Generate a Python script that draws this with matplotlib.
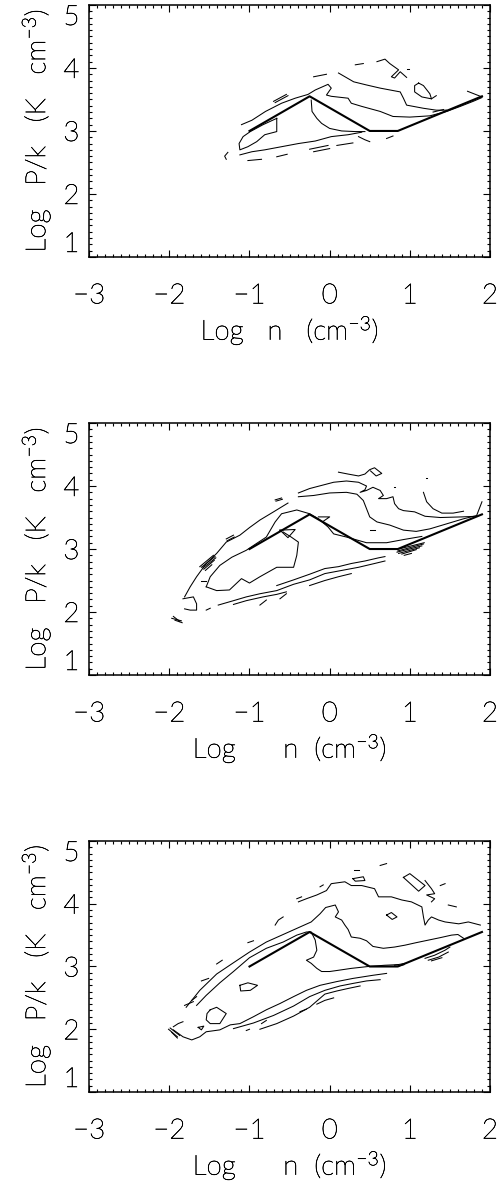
import matplotlib
matplotlib.use('Agg')
import matplotlib.pyplot as plt
import matplotlib.patheffects as pe
from matplotlib.ticker import MultipleLocator

plt.rcParams['font.family'] = ['Lato', 'DejaVu Sans']
plt.rcParams['font.weight'] = 'light'
plt.rcParams['axes.labelweight'] = 'light'
plt.rcParams['mathtext.default'] = 'regular'

# thermal equilibrium curve (same in all panels)
eq_logn = [-1.0, -0.25, 0.5, 0.85, 1.9]
eq_logp = [3.0, 3.55, 3.0, 3.0, 3.55]

x_ticks = [-3, -2, -1, 0, 1, 2]
y_ticks = [1, 2, 3, 4, 5]

# --- panel 1: contour traces (log n, log P/k) ---
p1_lines = [
    [(-1.10, 3.10), (-0.97, 3.17), (-0.80, 3.31), (-0.60, 3.44), (-0.43, 3.52), (-0.27, 3.58),
     (-0.18, 3.65), (-0.02, 3.74), (0.02, 3.68), (-0.04, 3.57), (0.02, 3.55), (0.23, 3.52),
     (0.27, 3.44), (0.40, 3.39), (0.63, 3.31), (0.79, 3.23), (1.00, 3.22), (1.25, 3.24),
     (1.46, 3.31), (1.63, 3.39), (1.79, 3.47), (1.90, 3.53)],
    [(0.11, 3.92), (0.30, 3.78), (0.46, 3.73), (0.63, 3.68), (0.88, 3.62), (0.92, 3.52),
     (0.96, 3.41), (1.17, 3.36), (1.33, 3.33), (1.46, 3.33)],
    [(-0.66, 3.20), (-0.66, 2.99), (-0.81, 2.94), (-0.91, 2.83), (-1.02, 2.75), (-1.12, 2.70),
     (-1.13, 2.80), (-1.08, 2.91), (-0.99, 2.99), (-0.83, 3.10), (-0.66, 3.20)],
    [(-0.23, 3.49), (-0.22, 3.31), (-0.16, 3.20), (-0.10, 3.12), (0.00, 3.04), (0.15, 3.00),
     (0.32, 2.99), (0.44, 2.99)],
    [(-1.12, 2.62), (-0.97, 2.67), (-0.81, 2.70), (-0.60, 2.75), (-0.39, 2.80), (-0.18, 2.84),
     (0.02, 2.91), (0.23, 2.94), (0.40, 2.98)],
]
p1_bits = [
    [(-1.27, 2.66), (-1.31, 2.60), (-1.29, 2.55)],
    [(-1.02, 2.53), (-0.85, 2.55)],
    [(-0.66, 2.59), (-0.53, 2.63)],
    [(-0.25, 2.71), (-0.02, 2.77)],
    [(-0.20, 2.67), (0.00, 2.72)],
    [(0.09, 2.77), (0.29, 2.81)],
    [(0.36, 2.91), (0.44, 2.86), (0.50, 2.83)],
    [(0.71, 2.88), (0.79, 2.92)],
    [(-0.70, 3.47), (-0.54, 3.58)],
    [(-0.68, 3.45), (-0.52, 3.56)],
    [(-0.20, 3.86), (-0.04, 3.90)],
    [(0.32, 4.05), (0.42, 4.07)],
    [(0.59, 4.10), (0.69, 4.14), (0.75, 4.07), (0.86, 3.97), (0.77, 3.86), (0.81, 3.84),
     (0.88, 3.94), (0.96, 3.85)],
    [(0.97, 3.99), (0.99, 3.99)],
    [(1.11, 3.76), (1.06, 3.72), (1.06, 3.62), (1.15, 3.54), (1.27, 3.51), (1.25, 3.59),
     (1.17, 3.72), (1.11, 3.76)],
    [(1.27, 3.51), (1.33, 3.56)],
    [(1.72, 3.63), (1.88, 3.55)],
    [(1.29, 3.30), (1.42, 3.34)],
]

# --- panel 2 ---
p2_lines = [
    [(-1.81, 2.24), (-1.74, 2.40), (-1.66, 2.56), (-1.54, 2.77), (-1.41, 2.93), (-1.29, 3.11),
     (-1.12, 3.22), (-1.00, 3.34), (-0.87, 3.46), (-0.70, 3.59), (-0.52, 3.73)],
    [(-1.54, 2.40), (-1.49, 2.56), (-1.37, 2.74), (-1.22, 2.87), (-1.04, 2.98), (-0.91, 3.09),
     (-0.79, 3.19), (-0.68, 3.43), (-0.60, 3.56), (-0.41, 3.62), (-0.25, 3.56), (-0.14, 3.48),
     (-0.02, 3.35), (0.05, 3.24), (0.21, 3.19), (0.46, 3.10), (0.71, 3.10), (0.92, 3.15),
     (1.15, 3.20)],
    [(-1.54, 2.40), (-1.41, 2.34), (-1.25, 2.35), (-1.10, 2.53), (-1.00, 2.46), (-0.87, 2.56),
     (-0.66, 2.71), (-0.45, 2.71), (-0.41, 2.90), (-0.39, 3.11), (-0.48, 3.19), (-0.58, 3.27)],
    [(0.11, 4.22), (0.23, 4.19), (0.36, 4.16), (0.44, 4.19), (0.50, 4.26), (0.56, 4.29),
     (0.65, 4.20), (0.58, 4.16), (0.51, 4.24)],
    [(-0.39, 3.89), (-0.25, 3.96), (-0.10, 4.01), (0.05, 4.06), (0.21, 4.08), (0.36, 4.06),
     (0.46, 4.00), (0.44, 3.94), (0.38, 3.90), (0.46, 3.93), (0.54, 3.98), (0.63, 3.93),
     (0.67, 3.85), (0.61, 3.80), (0.71, 3.80), (0.79, 3.83), (0.81, 3.72), (0.86, 3.64),
     (0.92, 3.61), (1.06, 3.59), (1.19, 3.52), (1.38, 3.50), (1.65, 3.51), (1.83, 3.52),
     (1.90, 3.75)],
    [(1.17, 3.90), (1.21, 3.75), (1.29, 3.64), (1.40, 3.57), (1.54, 3.57), (1.67, 3.60)],
    [(-0.39, 3.83), (-0.20, 3.85), (0.00, 3.89), (0.21, 3.90), (0.34, 3.87), (0.42, 3.77),
     (0.46, 3.64), (0.50, 3.51), (0.59, 3.43), (0.75, 3.38), (0.92, 3.30), (1.08, 3.28),
     (1.25, 3.32), (1.46, 3.40), (1.67, 3.48), (1.83, 3.53)],
    [(-0.66, 2.42), (-0.45, 2.51), (-0.25, 2.60), (-0.06, 2.69), (0.11, 2.72), (0.27, 2.77),
     (0.44, 2.81), (0.61, 2.86), (0.69, 2.88)],
    [(-1.39, 2.11), (-1.20, 2.18), (-1.04, 2.24), (-0.87, 2.29), (-0.66, 2.34), (-0.45, 2.44),
     (-0.25, 2.51), (-0.06, 2.61), (0.15, 2.66), (0.36, 2.71), (0.56, 2.77), (0.69, 2.81)],
    [(-1.20, 2.12), (-1.04, 2.18), (-0.83, 2.24), (-0.66, 2.28), (-0.54, 2.32)],
    [(-0.25, 2.42), (-0.06, 2.50), (0.11, 2.56), (0.27, 2.61)],
    [(-1.83, 2.21), (-1.70, 2.24), (-1.66, 2.13), (-1.66, 2.03), (-1.74, 2.03), (-1.81, 2.05)],
]
p2_bits = [
    [(-0.62, 3.30), (-0.43, 3.31), (-0.52, 3.18), (-0.62, 3.30)],
    [(-0.14, 3.51), (0.00, 3.51), (-0.08, 3.44)],
    [(-0.87, 2.11), (-0.79, 2.19)],
    [(-0.62, 2.21), (-0.54, 2.29)],
    [(-1.54, 2.03), (-1.49, 2.06)],
    [(0.86, 3.00), (1.18, 3.10)],
    [(0.85, 2.97), (1.17, 3.08)],
    [(0.84, 2.95), (1.15, 3.05)],
    [(0.86, 2.93), (1.12, 3.02)],
    [(0.90, 2.92), (1.08, 2.99)],
    [(0.93, 2.90), (1.02, 2.93)],
    [(-1.62, 2.72), (-1.45, 2.90)],
    [(-1.60, 2.71), (-1.43, 2.88)],
    [(-1.58, 2.70), (-1.42, 2.86)],
    [(-1.57, 2.68), (-1.44, 2.82)],
    [(-1.55, 2.66), (-1.47, 2.75)],
    [(-1.97, 1.90), (-1.85, 1.86)],
    [(-1.95, 1.93), (-1.87, 1.85)],
    [(-1.93, 1.87), (-1.84, 1.83)],
    [(-1.29, 3.16), (-1.20, 3.22)],
    [(-1.28, 3.13), (-1.19, 3.19)],
    [(-0.68, 3.78), (-0.60, 3.81)],
    [(-0.67, 3.76), (-0.59, 3.79)],
    [(-1.60, 2.50), (-1.54, 2.50)],
    [(0.50, 3.30), (0.56, 3.30)],
    [(0.80, 3.99), (0.82, 3.99)],
    [(1.20, 4.12), (1.22, 4.12)],
]

# --- panel 3 ---
p3_lines = [
    [(-0.39, 4.03), (-0.29, 4.08), (-0.16, 4.14), (-0.04, 4.21), (0.02, 4.32), (0.19, 4.35),
     (0.27, 4.29), (0.40, 4.29), (0.56, 4.24), (0.61, 4.11), (0.77, 4.11), (0.90, 4.06),
     (1.02, 4.03), (1.15, 3.95), (1.17, 3.79), (1.19, 3.66), (1.23, 3.74), (1.27, 3.79),
     (1.36, 3.74), (1.44, 3.71), (1.61, 3.68), (1.73, 3.71), (1.88, 3.66)],
    [(-1.79, 2.35), (-1.62, 2.62), (-1.41, 2.88), (-1.20, 3.06), (-1.00, 3.23), (-0.79, 3.39),
     (-0.58, 3.51), (-0.37, 3.63), (-0.23, 3.71), (-0.12, 3.84), (-0.05, 3.94), (0.07, 3.98),
     (0.11, 3.87), (0.07, 3.79), (0.15, 3.74), (0.19, 3.66), (0.23, 3.59), (0.27, 3.47),
     (0.38, 3.45), (0.46, 3.41), (0.54, 3.32), (0.67, 3.29), (0.81, 3.31), (0.94, 3.34),
     (1.08, 3.38), (1.23, 3.42), (1.38, 3.46), (1.52, 3.50), (1.60, 3.51), (1.67, 3.45)],
    [(-1.66, 2.38), (-1.54, 2.54), (-1.37, 2.74), (-1.20, 2.92), (-1.00, 3.14), (-0.79, 3.29),
     (-0.58, 3.39), (-0.41, 3.50), (-0.29, 3.55), (-0.23, 3.55), (-0.18, 3.42), (-0.16, 3.26),
     (-0.20, 3.15), (-0.29, 3.10), (-0.23, 3.05), (-0.16, 2.97), (-0.10, 2.92), (0.00, 2.92),
     (0.11, 2.94), (0.27, 2.97), (0.48, 3.00), (0.69, 3.02), (0.86, 3.03)],
    [(-1.95, 1.99), (-1.83, 1.88), (-1.72, 1.83), (-1.62, 1.88), (-1.54, 1.96), (-1.37, 1.99),
     (-1.24, 2.07), (-1.12, 2.09), (-0.95, 2.20), (-0.79, 2.31), (-0.62, 2.41), (-0.45, 2.52),
     (-0.29, 2.62), (-0.12, 2.70), (0.09, 2.76), (0.29, 2.81), (0.54, 2.86), (0.71, 2.89)],
    [(-1.20, 2.01), (-0.95, 2.10), (-0.70, 2.22), (-0.45, 2.37), (-0.25, 2.52), (-0.06, 2.62),
     (0.13, 2.69), (0.29, 2.73), (0.46, 2.77), (0.63, 2.79)],
    [(-0.87, 2.00), (-0.66, 2.09), (-0.45, 2.21), (-0.25, 2.35), (-0.06, 2.56), (0.09, 2.61),
     (0.23, 2.65), (0.38, 2.69)],
    [(-1.49, 2.31), (-1.41, 2.35), (-1.29, 2.25), (-1.37, 2.09), (-1.49, 2.09), (-1.54, 2.15),
     (-1.53, 2.25), (-1.49, 2.31)],
    [(-1.12, 2.70), (-1.02, 2.74), (-0.90, 2.70), (-0.99, 2.62), (-1.11, 2.61), (-1.12, 2.70)],
    [(0.92, 4.42), (1.00, 4.48), (1.19, 4.29), (1.11, 4.20), (0.92, 4.42)],
    [(0.29, 4.40), (0.42, 4.43), (0.44, 4.37), (0.32, 4.36), (0.29, 4.40)],
    [(0.71, 3.82), (0.77, 3.86), (0.84, 3.79), (0.78, 3.75), (0.71, 3.82)],
]
p3_bits = [
    [(-1.64, 2.03), (-1.57, 2.05), (-1.60, 1.99), (-1.64, 2.03)],
    [(1.19, 4.37), (1.27, 4.24), (1.31, 4.16), (1.21, 4.14), (1.31, 4.08), (1.27, 4.03)],
    [(0.30, 4.53), (0.36, 4.53)],
    [(0.63, 4.61), (0.71, 4.64)],
    [(1.38, 4.29), (1.44, 4.32)],
    [(1.48, 3.98), (1.58, 3.95)],
    [(-0.12, 4.27), (-0.08, 4.30)],
    [(-1.81, 2.38), (-1.70, 2.44)],
    [(-1.72, 2.46), (-1.66, 2.52)],
    [(-1.60, 2.77), (-1.51, 2.81)],
    [(-1.41, 3.04), (-1.34, 3.10)],
    [(-1.02, 3.38), (-0.95, 3.41)],
    [(-0.68, 3.66), (-0.64, 3.74), (-0.58, 3.79)],
    [(-0.41, 4.08), (-0.35, 4.11)],
    [(-0.37, 2.28), (-0.29, 2.32)],
    [(-0.16, 2.40), (-0.06, 2.46), (0.05, 2.50)],
    [(-0.85, 2.09), (-0.79, 2.14)],
    [(-1.04, 1.98), (-1.00, 2.00)],
    [(1.19, 3.13), (1.31, 3.18), (1.44, 3.26), (1.50, 3.31)],
    [(1.23, 3.10), (1.36, 3.15), (1.48, 3.23)],
    [(1.27, 3.09), (1.40, 3.14)],
    [(0.81, 3.02), (0.94, 3.05)],
    [(0.83, 3.00), (0.93, 3.03)],
    [(-2.01, 2.00), (-1.90, 1.88)],
    [(-1.99, 2.02), (-1.87, 1.90)],
    [(-1.97, 1.95), (-1.90, 1.86)],
    [(-1.95, 2.04), (-1.89, 2.09), (-1.83, 2.12)],
]

panel_lines = [p1_lines, p2_lines, p3_lines]
panel_bits = [p1_bits, p2_bits, p3_bits]
xlabels = ['Log   n   (cm$^{-3}$)', 'Log      n  (cm$^{-3}$)', 'Log      n  (cm$^{-3}$)']
ylabel = 'Log   P/k   (K   cm$^{-3}$)'

# axes rectangles in figure fractions
rects = [
    [0.178, 0.783, 0.800, 0.2128],
    [0.178, 0.4299, 0.800, 0.2128],
    [0.178, 0.0777, 0.800, 0.2120],
]

stroke = [pe.withStroke(linewidth=0.4, foreground='black')]

fig = plt.figure(figsize=(5.01, 11.84), dpi=100)

for i in range(3):
    ax = fig.add_axes(rects[i])
    for pts in panel_lines[i] + panel_bits[i]:
        xs = [p[0] for p in pts]
        ys = [p[1] for p in pts]
        ax.plot(xs, ys, color='black', lw=0.75)
    ax.plot(eq_logn, eq_logp, color='black', lw=1.5)

    ax.set_xlim(-3, 2)
    ax.set_ylim(1, 5)
    ax.set_xticks(x_ticks)
    ax.set_yticks(y_ticks)
    ax.xaxis.set_minor_locator(MultipleLocator(0.1))
    ax.yaxis.set_minor_locator(MultipleLocator(0.1))
    ax.tick_params(which='both', direction='in', top=True, right=True, width=0.8)
    ax.tick_params(which='major', length=5)
    ax.tick_params(which='minor', length=2.5)
    ax.tick_params(axis='x', which='major', pad=19, labelsize=20)
    ax.tick_params(axis='y', which='major', pad=7, labelsize=20)
    for sp in ax.spines.values():
        sp.set_linewidth(1.1)

    # end labels on the y axis sit inside the frame, like the original
    yt = ax.yaxis.get_major_ticks()
    yt[0].label1.set_verticalalignment('bottom')
    yt[-1].label1.set_verticalalignment('top')
    for lbl in ax.get_xticklabels() + ax.get_yticklabels():
        lbl.set_path_effects(stroke)

    xl = ax.set_xlabel(xlabels[i], fontsize=20, labelpad=4)
    yl = ax.set_ylabel(ylabel, fontsize=20, labelpad=8)
    xl.set_path_effects(stroke)
    yl.set_path_effects(stroke)

fig.savefig('out.png', dpi=100)
